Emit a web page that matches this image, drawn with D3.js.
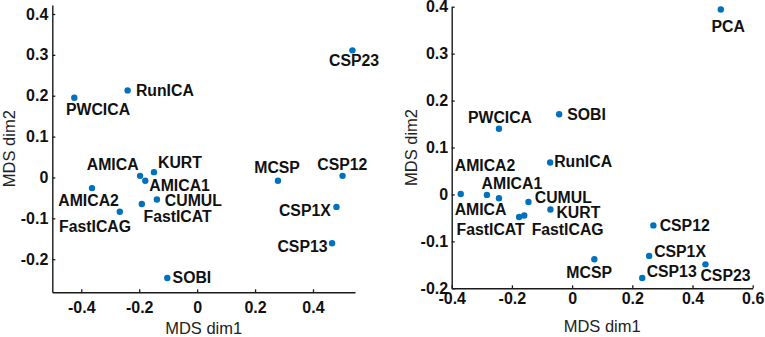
<!DOCTYPE html>
<html>
<head>
<meta charset="utf-8">
<script src="https://cdn.jsdelivr.net/npm/d3@7"></script>
<style>
  html, body { margin: 0; padding: 0; background: #fff; }
  svg { display: block; font-family: "Liberation Sans", Arial, sans-serif; font-weight: bold; }
</style>
</head>
<body>
<svg id="chart" width="765" height="337"></svg>
<script>
// ---------- DATA ----------
const leftNames = ["PWCICA","RunICA","CSP23","AMICA","KURT","AMICA1","AMICA2","FastICAG","FastICAT","CUMUL","SOBI","MCSP","CSP12","CSP1X","CSP13"];
const leftX = [-0.424,-0.240,0.536,-0.197,-0.149,-0.179,-0.363,-0.267,-0.191,-0.139,-0.103,0.279,0.502,0.481,0.466];
const leftY = [0.195,0.213,0.311,0.004,0.013,-0.008,-0.026,-0.084,-0.065,-0.054,-0.246,-0.008,0.004,-0.072,-0.161];

const rightNames = ["PCA","PWCICA","SOBI","RunICA","AMICA2","AMICA1","AMICA","CUMUL","FastICAT","FastICAG","KURT","MCSP","CSP12","CSP1X","CSP13","CSP23"];
const rightX = [0.494,-0.243,-0.043,-0.073,-0.370,-0.283,-0.243,-0.145,-0.176,-0.159,-0.072,0.074,0.270,0.256,0.233,0.443];
const rightY = [0.394,0.140,0.171,0.068,0.001,-0.001,-0.008,-0.016,-0.048,-0.045,-0.032,-0.138,-0.066,-0.131,-0.178,-0.149];

const leftXTicks = [-0.4,-0.2,0,0.2,0.4];
const leftYTicks = [-0.2,-0.1,0,0.1,0.2,0.3,0.4];
const rightXTicks = [-0.4,-0.2,0,0.2,0.4,0.6];
const rightYTicks = [-0.2,-0.1,0,0.1,0.2,0.3,0.4];

const xTitle = "MDS dim1";
const yTitle = "MDS dim2";

// ---------- LAYOUT (label placement, px offsets from point) ----------
const leftLabelPos = {
  PWCICA:[-8.3,17.3,"start"], RunICA:[8.3,5.4,"start"], CSP23:[-23.3,15.7,"start"],
  AMICA:[-1.5,-6,"end"], KURT:[4,-4,"start"], AMICA1:[4,9.8,"start"],
  AMICA2:[-33.7,18,"start"], FastICAG:[-60.7,20,"start"], FastICAT:[1.7,17.5,"start"],
  CUMUL:[8,6.5,"start"], SOBI:[5.3,5.5,"start"], MCSP:[-23.7,-8,"start"],
  CSP12:[-25.3,-5.7,"start"], CSP1X:[-5.7,9.3,"end"], CSP13:[-4.6,8.7,"end"]
};
const rightLabelPos = {
  PCA:[-9.3,22,"start"], PWCICA:[-31,-5.4,"start"], SOBI:[8,5.7,"start"],
  RunICA:[4,4.4,"start"], AMICA2:[-6,-23.3,"start"], AMICA1:[-5.3,-6.4,"start"],
  AMICA:[-44.3,16.7,"start"], CUMUL:[6.3,1,"start"], FastICAT:[-62.6,18.3,"start"],
  FastICAG:[7.4,19.7,"start"], KURT:[6,9,"start"], MCSP:[-28,18.3,"start"],
  CSP12:[6.3,5.4,"start"], CSP1X:[5,0.7,"start"], CSP13:[4.4,-0.7,"start"],
  CSP23:[-5,16.4,"start"]
};

const dotColor = "#0072BD";
const svg = d3.select("#chart");
const fmt = v => v === 0 ? "0" : String(v).replace("\u2212","-");

function panel(cfg) {
  const x = d3.scaleLinear().domain(cfg.xDomain).range(cfg.xRange);
  const y = d3.scaleLinear().domain(cfg.yDomain).range(cfg.yRange);
  const g = svg.append("g");

  const xAxis = g.append("g")
    .attr("transform", `translate(0,${cfg.yRange[0]})`)
    .call(d3.axisBottom(x).tickValues(cfg.xTicks).tickFormat(fmt).tickSizeInner(-3).tickSizeOuter(0).tickPadding(cfg.xPad));
  const yAxis = g.append("g")
    .attr("transform", `translate(${cfg.xRange[0]},0)`)
    .call(d3.axisLeft(y).tickValues(cfg.yTicks).tickFormat(fmt).tickSizeInner(-3).tickSizeOuter(0).tickPadding(cfg.yPad));
  [xAxis, yAxis].forEach(a => {
    a.select(".domain").attr("stroke", "#1a1a1a").attr("stroke-width", 1.4);
    a.selectAll(".tick line").attr("stroke", "#1a1a1a").attr("stroke-width", 1.3);
    a.selectAll(".tick text").attr("fill", "#111").style("font-size", "16px")
      .style("font-family", '"Liberation Sans", Arial, sans-serif').style("font-weight", "bold");
  });
  xAxis.selectAll(".tick text").attr("dy", "0.71em");

  const data = cfg.names.map((n, i) => ({ name: n, x: cfg.xs[i], y: cfg.ys[i] }));
  g.selectAll("circle.pt").data(data).join("circle")
    .attr("class", "pt")
    .attr("cx", d => x(d.x)).attr("cy", d => y(d.y)).attr("r", 3.2)
    .attr("fill", dotColor);

  g.selectAll("text.lbl").data(data).join("text")
    .attr("class", "lbl")
    .attr("x", d => x(d.x) + cfg.labels[d.name][0])
    .attr("y", d => y(d.y) + cfg.labels[d.name][1])
    .attr("text-anchor", d => cfg.labels[d.name][2])
    .attr("fill", "#111").style("font-size", "15.8px")
    .text(d => d.name);

  g.append("text")
    .attr("x", (cfg.xRange[0] + cfg.xRange[1]) / 2)
    .attr("y", cfg.xTitleY)
    .attr("text-anchor", "middle").attr("fill", "#222")
    .style("font-size", "16.5px").style("font-weight", "normal")
    .text(xTitle);
  g.append("text")
    .attr("transform", `translate(${cfg.yTitleX},${(cfg.yRange[0] + cfg.yRange[1]) / 2}) rotate(-90)`)
    .attr("text-anchor", "middle").attr("fill", "#222")
    .style("font-size", "16.5px").style("font-weight", "normal")
    .text(yTitle);
}

panel({
  names: leftNames, xs: leftX, ys: leftY, labels: leftLabelPos,
  xDomain: [-0.5, 0.545], xRange: [52.3, 355],
  yDomain: [-0.281, 0.422], yRange: [292.3, 5],
  xTicks: leftXTicks, yTicks: leftYTicks, xPad: 9, yPad: 4,
  xTitleY: 334, yTitleX: 15
});
panel({
  names: rightNames, xs: rightX, ys: rightY, labels: rightLabelPos,
  xDomain: [-0.4, 0.6], xRange: [451.7, 752.7],
  yDomain: [-0.2, 0.4], yRange: [288.3, 6.7],
  xTicks: rightXTicks, yTicks: rightYTicks, xPad: 4, yPad: 3.5,
  xTitleY: 332, yTitleX: 416.5
});
</script>
</body>
</html>
